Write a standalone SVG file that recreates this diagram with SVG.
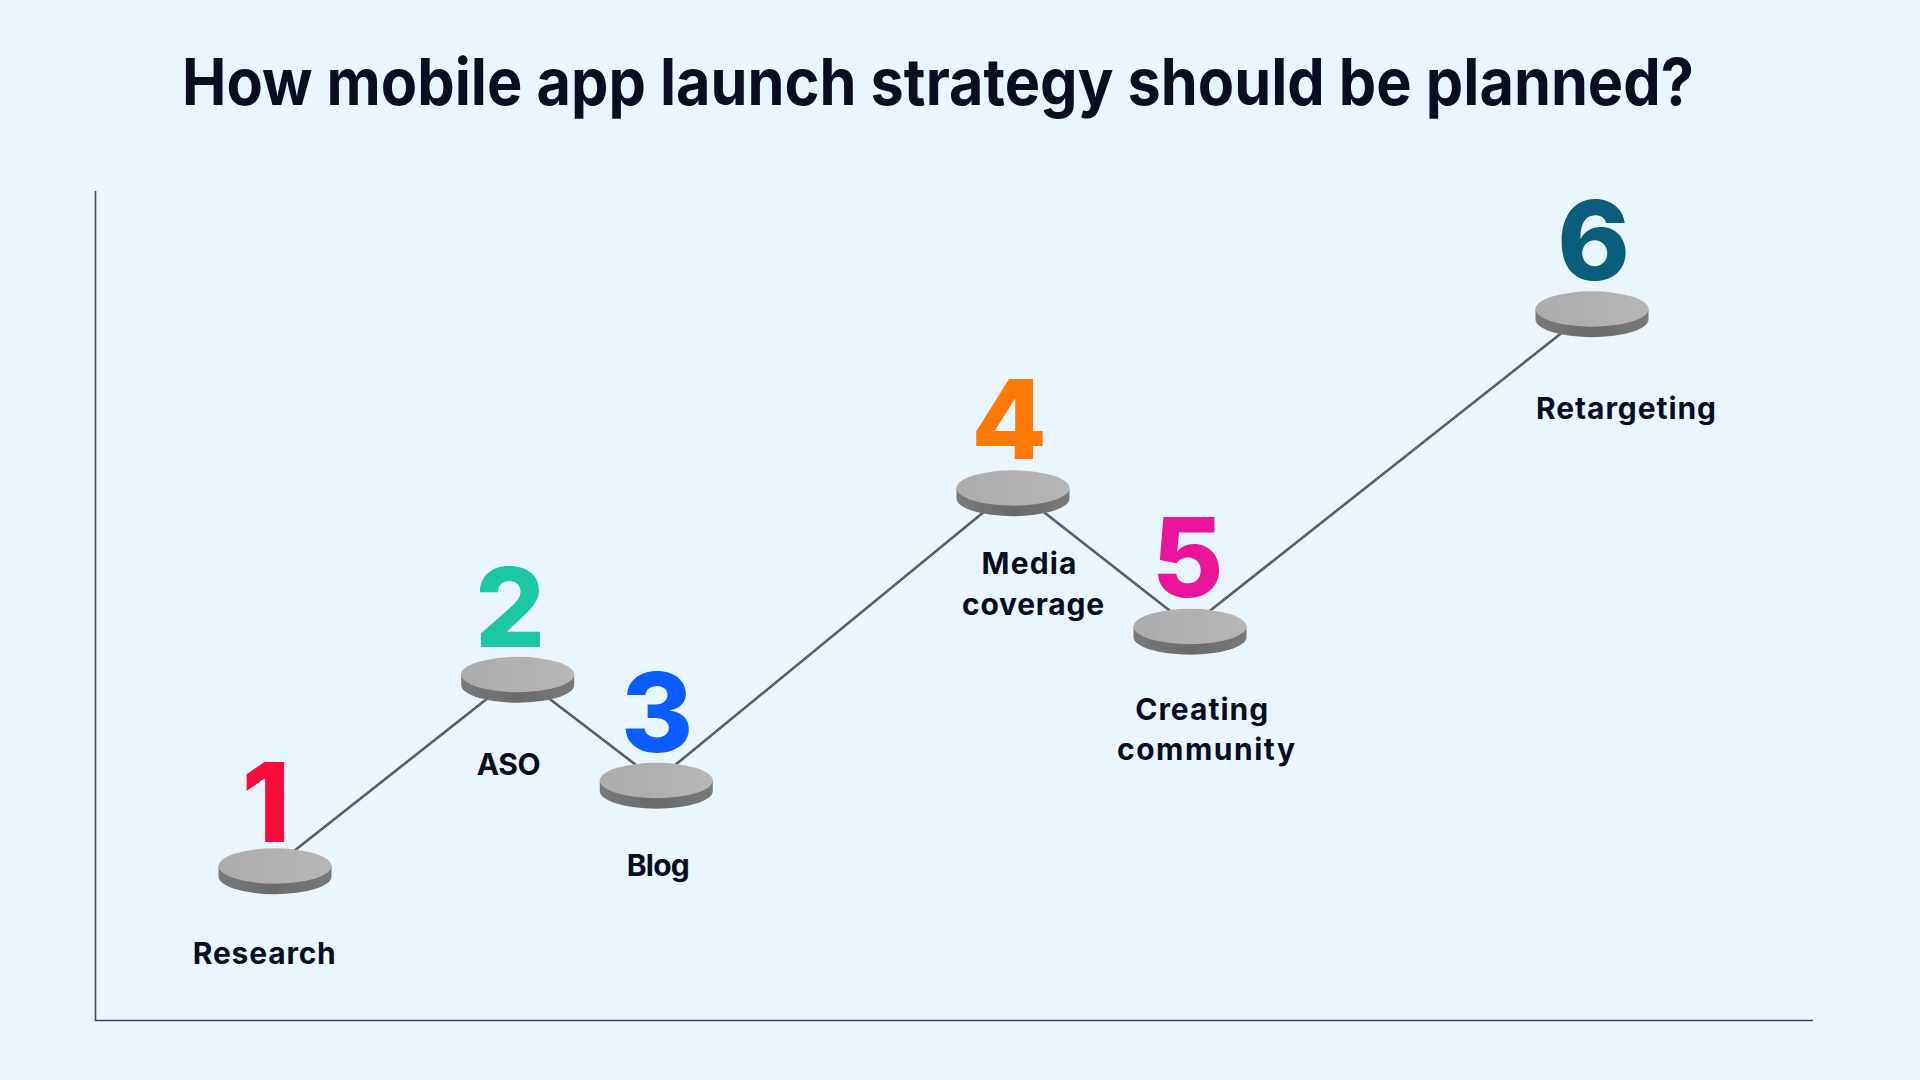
<svg xmlns="http://www.w3.org/2000/svg" width="1920" height="1080" viewBox="0 0 1920 1080">
  <style>
    .title { font-family: Inter, "Open Sans", "Liberation Sans", sans-serif; font-weight: 700; font-size: 65px; fill: #0b0d20; }
    .label { font-family: Inter, "Open Sans", "Liberation Sans", sans-serif; font-weight: 700; font-size: 30px; fill: #0b0d1e; text-anchor: middle; }
    .num { font-family: Inter, "Open Sans", "Liberation Sans", sans-serif; font-weight: 800; font-size: 110px; text-anchor: middle; }
    .conn { stroke: #5e5e5e; stroke-width: 2.6; fill: none; stroke-linecap: round; }
    .axis { stroke: #3d4a55; stroke-width: 1.6; fill: none; }
    .top { fill: url(#topGrad); }
    .side { fill: url(#sideGrad); }
  </style>
  <defs>
    <linearGradient id="topGrad" x1="0" y1="0" x2="1" y2="0">
      <stop offset="0" stop-color="#acacac"/>
      <stop offset="1" stop-color="#b6b6b6"/>
    </linearGradient>
    <linearGradient id="sideGrad" x1="0" y1="0" x2="1" y2="0">
      <stop offset="0" stop-color="#7a7a7a"/>
      <stop offset="0.5" stop-color="#6a6a6a"/>
      <stop offset="1" stop-color="#7a7a7a"/>
    </linearGradient>
    <g id="disc">
      <path class="side" d="M-56.5,0 V10.5 A56.5,17.7 0 0 0 56.5,10.5 V0 Z"/>
      <ellipse class="top" cx="0" cy="0" rx="56.5" ry="17.7"/>
    </g>
  </defs>

  <rect x="0" y="0" width="1920" height="1080" fill="#eaf6ff"/>

  <text class="title" x="182" y="105" textLength="1512" lengthAdjust="spacingAndGlyphs">How mobile app launch strategy should be planned?</text>

  <g id="axes">
    <polyline class="axis" points="95.5,191 95.5,1020.5 1813,1020.5"/>
  </g>

  <g id="connectors">
    <line class="conn" x1="275" y1="866" x2="517.7" y2="674.5"/>
    <line class="conn" x1="517.7" y1="674.5" x2="656.3" y2="780.5"/>
    <line class="conn" x1="656.3" y1="780.5" x2="1013" y2="488"/>
    <line class="conn" x1="1013" y1="488" x2="1190" y2="626.5"/>
    <line class="conn" x1="1190" y1="626.5" x2="1592" y2="309"/>
  </g>

  <g id="step1">
    <use href="#disc" x="275" y="866"/>
    <text class="num" x="266" y="842" fill="#fb0a3e">1</text>
    <text class="label" x="264.3" y="964" textLength="143" lengthAdjust="spacing">Research</text>
  </g>
  <g id="step2">
    <use href="#disc" x="517.7" y="674.5"/>
    <text class="num" x="510" y="647" fill="#1ec7a3">2</text>
    <text class="label" x="508.7" y="775" textLength="64" lengthAdjust="spacing">ASO</text>
  </g>
  <g id="step3">
    <use href="#disc" x="656.3" y="780.5"/>
    <text class="num" x="657" y="752" fill="#0a5cff">3</text>
    <text class="label" x="658.3" y="876" textLength="63" lengthAdjust="spacing">Blog</text>
  </g>
  <g id="step4">
    <use href="#disc" x="1013" y="488"/>
    <text class="num" x="1009" y="459" fill="#ff7a05">4</text>
    <text class="label" x="1029" y="573.5" textLength="95" lengthAdjust="spacing">Media</text>
    <text class="label" x="1033" y="614.5" textLength="142" lengthAdjust="spacing">coverage</text>
  </g>
  <g id="step5">
    <use href="#disc" x="1190" y="626.5"/>
    <text class="num" x="1187.5" y="597" fill="#e8159c">5</text>
    <text class="label" x="1201.7" y="720" textLength="133" lengthAdjust="spacing">Creating</text>
    <text class="label" x="1206" y="760" textLength="178" lengthAdjust="spacing">community</text>
  </g>
  <g id="step6">
    <use href="#disc" x="1592" y="309"/>
    <text class="num" x="1593.7" y="280" fill="#0b5d7c">6</text>
    <text class="label" x="1626" y="419.3" textLength="180" lengthAdjust="spacing">Retargeting</text>
  </g>
</svg>
